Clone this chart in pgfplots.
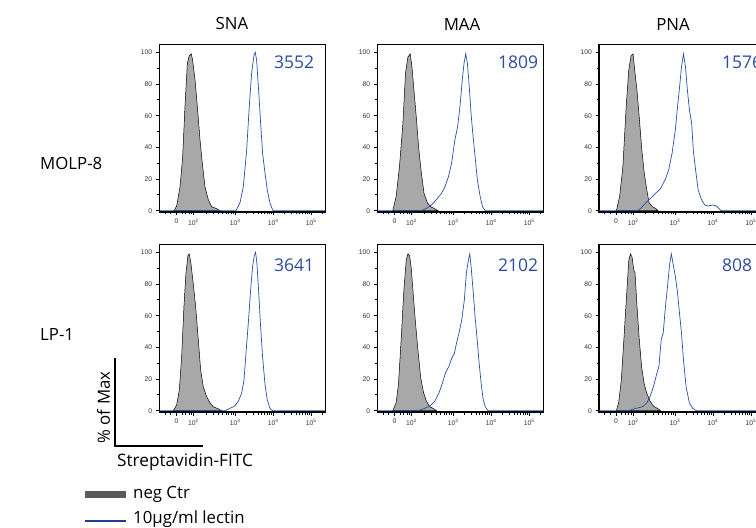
\documentclass[border=0pt]{standalone}
\usepackage{pgfplots}
\pgfplotsset{compat=1.18}
\usepackage{fontspec}
\setmainfont{Open Sans}
\newfontfamily\tickfont{Liberation Sans}
\definecolor{lineblue}{RGB}{40,78,165}
\definecolor{textblue}{RGB}{45,75,160}
\definecolor{histgray}{RGB}{168,168,168}
\definecolor{leggray}{RGB}{90,90,90}
\pgfplotsset{
 panel/.style={
  scale only axis, width=166pt, height=167.6pt,
  xmin=1.0, xmax=5.37, ymin=-0.8, ymax=105,
  anchor=south west,
  axis line style={line width=1.2pt},
  xtick={1.45,1.9,3,4,5},
  xticklabels={0,10\textsuperscript{2},10\textsuperscript{3},10\textsuperscript{4},10\textsuperscript{5}},
  minor xtick={1.15,1.3,1.6,1.7,1.78,1.85,2.231,2.425,2.562,2.669,2.756,2.83,2.893,2.95,3.301,3.477,3.602,3.699,3.778,3.845,3.903,3.954,4.301,4.477,4.602,4.699,4.778,4.845,4.903,4.954,5.301},
  ytick={0,20,40,60,80,100},
  minor ytick={10,30,50,70,90},
  tick align=outside, tick pos=left,
  major tick length=3.5pt, minor tick length=2.5pt,
  tick style={black, line width=0.8pt},
  tick label style={font=\tickfont\fontsize{6.8}{7}\selectfont, text=black!80},
  /pgf/number format/assume math mode=true,
 },
 neg/.style={fill=histgray, draw=black, line width=0.5pt},
 lec/.style={draw=lineblue, line width=0.7pt},
}
\begin{document}
\begin{tikzpicture}
\useasboundingbox (0pt,0pt) rectangle (756pt,528pt);
\clip (0pt,0pt) rectangle (756pt,528pt);
% ---------- Row 1 ----------
\begin{axis}[panel, at={(159.3pt,316pt)}]
\addplot[neg] coordinates {(1.387,0)(1.457,3)(1.545,15)(1.615,34)(1.676,66)(1.738,93)(1.790,98)(1.843,99)(1.878,95)(1.939,83)(2.001,66)(2.071,45)(2.141,28)(2.203,15)(2.290,7)(2.378,2.5)(2.492,1.5)(2.597,0)} \closedcycle;
\addplot[lec] coordinates {(1.0,0)(3.018,0)(3.124,5)(3.211,15)(3.299,38)(3.369,66)(3.431,87)(3.492,98)(3.527,100)(3.562,95)(3.615,76)(3.668,55)(3.720,36)(3.782,24)(3.843,13)(3.913,5)(3.983,0.5)(4.018,0)(5.37,0)};
\end{axis}
\begin{axis}[panel, at={(377.3pt,316pt)}]
\addplot[neg] coordinates {(1.407,0)(1.496,9)(1.584,28)(1.673,55)(1.743,87)(1.805,97)(1.867,99)(1.912,91)(1.965,76)(2.027,59)(2.088,40)(2.159,24)(2.230,11)(2.319,5)(2.407,2.5)(2.496,1.5)(2.602,0)} \closedcycle;
\addplot[lec] coordinates {(1.0,0)(2.159,0)(2.292,1.5)(2.425,3.6)(2.558,7)(2.690,11)(2.779,15)(2.867,21)(2.956,30)(3.044,45)(3.115,53)(3.177,66)(3.239,83)(3.283,93)(3.327,99)(3.372,93)(3.416,80)(3.469,61)(3.513,49)(3.575,34)(3.637,19)(3.708,9)(3.770,2.5)(3.841,0)(5.37,0)};
\end{axis}
\begin{axis}[panel, at={(599pt,316pt)}]
\addplot[neg] coordinates {(1.457,0)(1.543,9)(1.629,28)(1.716,66)(1.784,89)(1.845,98)(1.897,99)(1.948,87)(2.000,76)(2.060,59)(2.121,40)(2.190,24)(2.259,13)(2.319,5)(2.405,2.5)(2.491,1.5)(2.552,0)} \closedcycle;
\addplot[lec] coordinates {(1.0,0)(2.0,0)(2.103,1.5)(2.233,5)(2.362,8)(2.491,11)(2.621,14)(2.750,20)(2.836,26)(2.922,36)(3.009,51)(3.069,66)(3.121,78)(3.172,91)(3.224,99)(3.276,91)(3.328,76)(3.379,64)(3.440,55)(3.483,38)(3.552,24)(3.612,13)(3.698,7)(3.784,3.6)(3.871,3)(4.0,3.6)(4.086,3)(4.155,1.5)(4.216,0)(5.37,0)};
\end{axis}
% ---------- Row 2 ----------
\begin{axis}[panel, at={(159.3pt,116pt)}]
\addplot[neg] coordinates {(1.368,0)(1.456,3.6)(1.526,13)(1.588,34)(1.649,66)(1.702,87)(1.754,98)(1.789,99)(1.833,93)(1.895,80)(1.956,66)(2.026,45)(2.088,26)(2.158,15)(2.246,9)(2.333,5)(2.421,2.5)(2.526,1.5)(2.640,0)} \closedcycle;
\addplot[lec] coordinates {(1.0,0)(2.728,0)(2.860,1.5)(2.991,3)(3.079,6)(3.167,11)(3.228,19)(3.281,36)(3.342,55)(3.404,76)(3.456,91)(3.500,98)(3.535,100)(3.570,93)(3.614,76)(3.667,53)(3.719,34)(3.781,17)(3.842,7)(3.912,1.5)(3.982,0)(5.37,0)};
\end{axis}
\begin{axis}[panel, at={(377.3pt,116pt)}]
\addplot[neg] coordinates {(1.407,0)(1.496,5)(1.558,17)(1.628,45)(1.699,76)(1.761,95)(1.805,99)(1.850,98)(1.894,90)(1.938,76)(2.000,57)(2.071,38)(2.142,21)(2.212,12)(2.292,6)(2.381,2.5)(2.469,1.5)(2.558,0)} \closedcycle;
\addplot[lec] coordinates {(1.0,0)(2.071,0)(2.248,1.5)(2.381,3)(2.513,6)(2.619,11)(2.708,17)(2.796,24)(2.885,28)(2.956,33)(3.027,36)(3.088,43)(3.150,49)(3.221,57)(3.292,70)(3.345,87)(3.398,95)(3.434,99)(3.469,91)(3.522,76)(3.575,59)(3.628,45)(3.681,30)(3.735,17)(3.788,7)(3.841,2.5)(3.912,0)(5.37,0)};
\end{axis}
\begin{axis}[panel, at={(599pt,116pt)}]
\addplot[neg] coordinates {(1.457,0)(1.517,5)(1.586,19)(1.655,45)(1.724,72)(1.784,95)(1.828,99)(1.871,97)(1.914,89)(1.948,87)(2.000,66)(2.060,45)(2.121,28)(2.190,17)(2.259,11)(2.345,6)(2.431,3)(2.534,1.5)(2.621,0)} \closedcycle;
\addplot[lec] coordinates {(1.0,0)(1.759,0)(1.974,1.5)(2.147,2.5)(2.259,5)(2.345,9)(2.431,15)(2.517,23)(2.578,28)(2.638,45)(2.690,49)(2.750,66)(2.810,80)(2.862,93)(2.905,99)(2.948,93)(3.009,85)(3.069,74)(3.121,61)(3.172,49)(3.224,32)(3.293,15)(3.379,5)(3.466,1.5)(3.569,0)(5.37,0)};
\end{axis}
% ---------- Text ----------
\begin{scope}[x=1pt,y=1pt]
\begin{scope}[font=\fontsize{16.8}{20}\selectfont]
\node at (232,504) {SNA};
\node at (462,504) {MAA};
\node at (673,504) {PNA};
\node[anchor=west, inner sep=0pt] at (40,365) {MOLP-8};
\node[anchor=west, inner sep=0pt] at (40,193) {LP-1};
\end{scope}
\begin{scope}[font=\fontsize{17.5}{20}\selectfont, text=textblue]
\node[anchor=west, inner sep=0pt] at (274,465.5) {3552};
\node[anchor=west, inner sep=0pt] at (498,465.5) {1809};
\node[anchor=west, inner sep=0pt] at (722,465.5) {1576};
\node[anchor=west, inner sep=0pt] at (274,262.3) {3641};
\node[anchor=west, inner sep=0pt] at (498,262.3) {2102};
\node[anchor=west, inner sep=0pt] at (722,262.3) {808};
\end{scope}
\draw[line width=1.3pt] (115,170) -- (115,82) -- (202.7,82);
\node[rotate=90, inner sep=0pt, font=\fontsize{16.8}{20}\selectfont] at (103.5,120.5) {\% of Max};
\node[anchor=west, inner sep=0pt, font=\fontsize{17.2}{20}\selectfont] at (117,66) {Streptavidin-FITC};
\draw[leggray, line width=7pt] (85,33) -- (125.7,33);
\draw[lineblue!80!black, line width=1.3pt] (85,7) -- (125.7,7);
\node[anchor=west, inner sep=0pt, font=\fontsize{16.8}{20}\selectfont] at (133,34) {neg Ctr};
\node[anchor=west, inner sep=0pt, font=\fontsize{16.8}{20}\selectfont] at (133,9) {10µg/ml lectin};
\end{scope}
\end{tikzpicture}
\end{document}
